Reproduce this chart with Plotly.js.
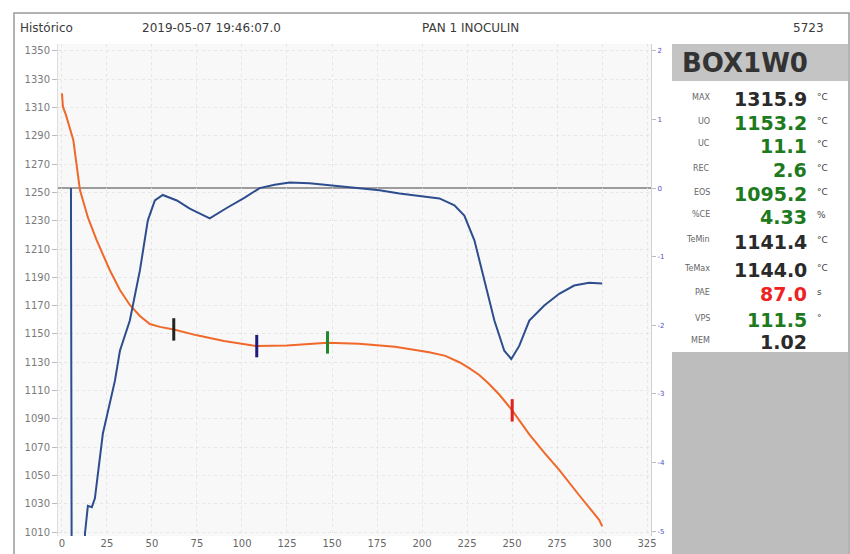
<!DOCTYPE html>
<html>
<head>
<meta charset="utf-8">
<script src="https://cdn.plot.ly/plotly-3.0.1.min.js"></script>
<style>html,body{margin:0;padding:0;background:#fff;}#chart{width:850px;height:554px;}</style>
</head>
<body>
<div id="chart"></div>
<script>
// Temperature curve (left axis, °C)
const tempTime = [0, 0.55, 2.2, 6.3, 10, 14.5, 19.2, 26.6, 32.2, 37.7, 43.3, 48.8, 54.4, 62.1, 75, 90, 108.2, 125, 147.5, 165, 185, 204, 213, 220.7, 226, 231.8, 237, 243, 250.1, 259.6, 268, 276.2, 287.3, 298.4, 300.1];
const tempVals = [1320, 1310.4, 1304.8, 1287, 1251.7, 1232, 1216.4, 1195, 1181, 1170.5, 1162.7, 1157, 1155, 1153.2, 1149, 1145, 1141.4, 1141.8, 1143.8, 1143, 1141, 1137, 1134.5, 1130, 1126, 1121, 1115, 1107, 1096, 1079, 1066, 1054, 1036, 1018.6, 1014];

// Cooling-rate curve (right axis)
const rateTime = [5.0, 5.4, 12.2, 12.8, 14.4, 16.6, 18.3, 22.7, 29.4, 32.2, 37.7, 43.3, 47.7, 51.6, 56.0, 63.8, 71.0, 82.1, 91.5, 101.5, 109.8, 118.1, 126.5, 137.5, 148.6, 159.7, 176.4, 187.5, 198.6, 209.7, 218.0, 223.5, 229.1, 234.6, 240.2, 245.7, 249.6, 254.0, 259.6, 267.9, 276.2, 284.5, 292.8, 300.1];
const rateVals = [0.0, -5.6, -5.6, -5.03, -4.63, -4.65, -4.52, -3.58, -2.81, -2.37, -1.93, -1.20, -0.47, -0.18, -0.10, -0.18, -0.30, -0.44, -0.29, -0.14, 0.0, 0.05, 0.08, 0.07, 0.04, 0.01, -0.03, -0.08, -0.11, -0.15, -0.25, -0.40, -0.76, -1.35, -1.93, -2.37, -2.49, -2.30, -1.93, -1.71, -1.54, -1.42, -1.38, -1.39];

// Event markers
const markTime = [62.1, 108.2, 147.5, 250.1];
const markTemp = [1153.2, 1141.4, 1144.0, 1096.0];
const markColors = ['#222222', '#1c1c7a', '#1f8a2a', '#e02020'];

// Axis ticks
const xTicks = [0, 25, 50, 75, 100, 125, 150, 175, 200, 225, 250, 275, 300, 325];
const yTicks = [1010, 1030, 1050, 1070, 1090, 1110, 1130, 1150, 1170, 1190, 1210, 1230, 1250, 1270, 1290, 1310, 1330, 1350];
const y2Ticks = [-5, -4, -3, -2, -1, 0, 1, 2];

// Header
const headerTexts = ['Histórico', '2019-05-07 19:46:07.0', 'PAN 1 INOCULIN', '5723'];

// Side panel
const panelTitle = 'BOX1W0';
const panelLabels = ['MAX', 'UO', 'UC', 'REC', 'EOS', '%CE', 'TeMin', 'TeMax', 'PAE', 'VPS', 'MEM'];
const panelValues = ['1315.9', '1153.2', '11.1', '2.6', '1095.2', '4.33', '1141.4', '1144.0', '87.0', '111.5', '1.02'];
const panelUnits = ['°C', '°C', '°C', '°C', '°C', '%', '°C', '°C', 's', '°', ''];
const panelColors = ['#2a2a2a', '#1d7a1d', '#1d7a1d', '#1d7a1d', '#1d7a1d', '#1d7a1d', '#2a2a2a', '#2a2a2a', '#ee2222', '#1d7a1d', '#2a2a2a'];

const W = 850, H = 554;
const px = x => x / W;
const py = y => 1 - y / H;

const traces = [
  {x: tempTime, y: tempVals, type: 'scatter', mode: 'lines', line: {color: '#f0682a', width: 2}, xaxis: 'x', yaxis: 'y', hoverinfo: 'skip'},
  {x: rateTime, y: rateVals, type: 'scatter', mode: 'lines', line: {color: '#2d4d8e', width: 2}, xaxis: 'x', yaxis: 'y2', hoverinfo: 'skip'},
  {x: markTime, y: markTemp, type: 'scatter', mode: 'markers', marker: {symbol: 'line-ns-open', size: 16, color: markColors, line: {color: markColors, width: 3}}, xaxis: 'x', yaxis: 'y', hoverinfo: 'skip'}
];

const shapes = [
  {type: 'rect', xref: 'paper', yref: 'paper', x0: px(14), x1: px(849), y0: py(560), y1: py(13), line: {color: '#9a9a9a', width: 1.5}, fillcolor: 'rgba(0,0,0,0)', layer: 'below'},
  {type: 'rect', xref: 'paper', yref: 'paper', x0: px(672), x1: px(848), y0: py(81), y1: py(44), line: {width: 0}, fillcolor: '#c4c4c4', layer: 'below'},
  {type: 'rect', xref: 'paper', yref: 'paper', x0: px(672), x1: px(848), y0: py(560), y1: py(352), line: {width: 0}, fillcolor: '#bdbdbd', layer: 'below'},
  {type: 'line', xref: 'x domain', yref: 'y2', x0: 0, x1: 1, y0: 0, y1: 0, line: {color: '#9c9c9c', width: 2}, layer: 'below'}
];

const annotations = [];
const headerX = [18, 140, 470, 826];
const headerAnchor = ['left', 'left', 'center', 'right'];
headerTexts.forEach((t, i) => annotations.push({xref: 'paper', yref: 'paper', x: px(headerX[i]), y: py(28), text: t, showarrow: false, xanchor: headerAnchor[i], yanchor: 'middle', font: {family: 'DejaVu Sans', size: 12, color: '#3a3a3a'}}));
annotations.push({xref: 'paper', yref: 'paper', x: px(680), y: py(63), text: '<b>' + panelTitle + '</b>', showarrow: false, xanchor: 'left', yanchor: 'middle', font: {family: 'DejaVu Sans', size: 26, color: '#333333'}});
const rowY = [99, 123, 146, 170, 194, 217, 242, 270, 294, 320, 342];
panelLabels.forEach((l, i) => {
  annotations.push({xref: 'paper', yref: 'paper', x: px(712), y: py(rowY[i] - 2), text: l, showarrow: false, xanchor: 'right', yanchor: 'middle', font: {family: 'DejaVu Sans', size: 8, color: '#666'}});
  annotations.push({xref: 'paper', yref: 'paper', x: px(809), y: py(rowY[i]), text: '<b>' + panelValues[i] + '</b>', showarrow: false, xanchor: 'right', yanchor: 'middle', font: {family: 'DejaVu Sans', size: 19, color: panelColors[i]}});
  if (panelUnits[i]) annotations.push({xref: 'paper', yref: 'paper', x: px(815), y: py(rowY[i] - 2), text: panelUnits[i], showarrow: false, xanchor: 'left', yanchor: 'middle', font: {family: 'DejaVu Sans', size: 9, color: '#444'}});
});

const layout = {
  width: W, height: H,
  margin: {l: 0, r: 0, t: 0, b: 0},
  paper_bgcolor: '#ffffff',
  plot_bgcolor: '#f8f8f8',
  showlegend: false,
  xaxis: {domain: [px(58), px(651)], range: [-2.2, 327.2], tickvals: xTicks, ticktext: xTicks.map(String), showgrid: true, gridcolor: '#e6e6e6', griddash: 'dot', zeroline: false, ticks: '', ticklen: 0, tickfont: {family: 'DejaVu Sans', size: 10, color: '#666'}, showline: false},
  yaxis: {domain: [py(536), py(44)], range: [1007.2, 1354.9], tickvals: yTicks, ticktext: yTicks.map(String), showgrid: true, gridcolor: '#e6e6e6', griddash: 'dot', zeroline: false, ticks: 'outside', ticklen: 5, tickcolor: '#bbb', tickfont: {family: 'DejaVu Sans', size: 10, color: '#7a7a7a'}, showline: true, linecolor: '#dddddd'},
  yaxis2: {overlaying: 'y', side: 'right', anchor: 'x', range: [-5.07, 2.10], tickvals: y2Ticks, ticktext: y2Ticks.map(String), showgrid: false, zeroline: false, ticks: 'outside', ticklen: 4, tickcolor: '#bbb', tickfont: {family: 'DejaVu Sans', size: 7, color: '#5050c8'}, showline: true, linecolor: '#d0d0d0'},
  shapes: shapes,
  annotations: annotations
};

Plotly.newPlot('chart', traces, layout, {displayModeBar: false, staticPlot: true});
</script>
</body>
</html>
